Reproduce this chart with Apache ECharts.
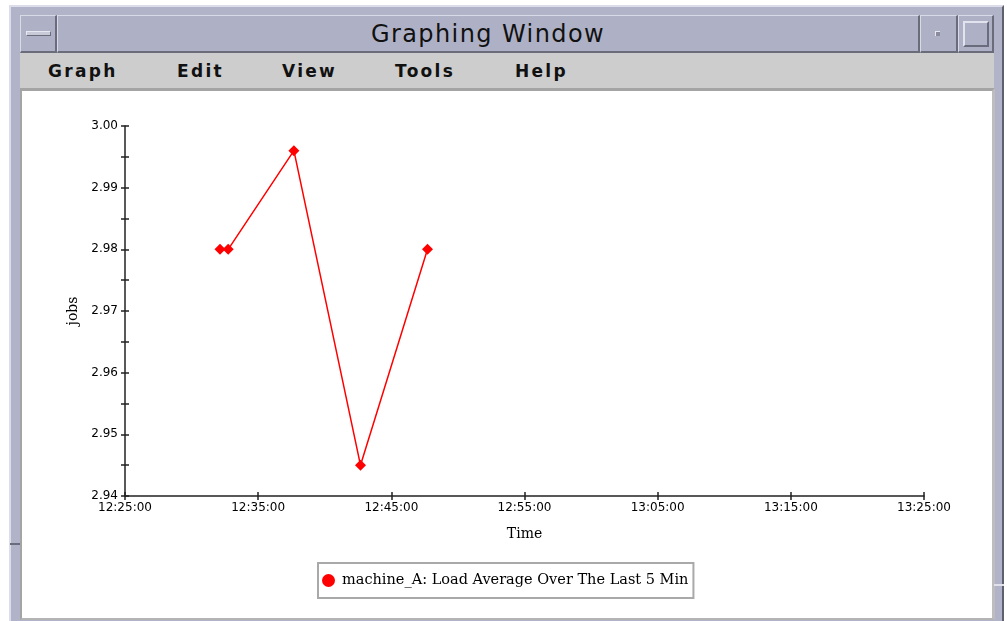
<!DOCTYPE html>
<html>
<head>
<meta charset="utf-8">
<script src="https://cdn.jsdelivr.net/npm/echarts@6/dist/echarts.min.js"></script>
<style>
  html, body { margin:0; padding:0; width:1007px; height:621px; overflow:hidden; background:#fff; }
  .abs { position:absolute; box-sizing:border-box; }
  #frame { left:9px; top:5px; width:995px; height:640px; background:#b1b4c9;
           border-left:2px solid #dcdde8; border-top:2px solid #dcdde8; border-right:2px solid #5e6070; }
  #titlebar { left:20px; top:15px; width:974px; height:38px; background:#aeb1c6; }
  .btn { top:15px; height:38px; background:#aeb1c6; border-left:1px solid #d8dae6; border-top:1px solid #d8dae6;
         border-right:2px solid #6a6c7c; border-bottom:2px solid #6a6c7c; }
  #title { left:57px; top:15px; width:862px; height:38px; line-height:38px; text-align:center;
           font-family:"DejaVu Sans"; font-size:24px; letter-spacing:1.4px; color:#111; }
  #menubar { left:20px; top:53px; width:974px; height:36px; background:#cdcdcd; }
  .menu { top:53px; height:36px; line-height:36px; font-family:"DejaVu Sans"; font-weight:bold;
          font-size:17px; letter-spacing:2.3px; color:#111; }
  #panel { left:20px; top:88px; width:975px; height:532px; background:#fff;
           border-top:3px solid #a4a4a4; border-left:2px solid #a4a4a4; border-right:3px solid #bdbdbd; border-bottom:2px solid #b4b4b4; }
  #chart { position:absolute; left:0; top:0; width:1007px; height:621px; }
</style>
</head>
<body>
<div class="abs" id="frame"></div>
<div class="abs" id="titlebar"></div>
<div class="abs btn" style="left:20px;width:37px;"></div>
<div class="abs" style="left:26px;top:31px;width:25px;height:5px;background:#c8cad8;border:1px solid #6a6c7c;border-top-color:#e8e9f0;border-left-color:#e8e9f0;"></div>
<div class="abs btn" style="left:57px;width:863px;"></div>
<div class="abs btn" style="left:920px;width:38px;"></div>
<div class="abs" style="left:935px;top:31px;width:5px;height:5px;background:#8a8c9c;border-top:1px solid #e8e9f0;border-left:1px solid #e8e9f0;"></div>
<div class="abs btn" style="left:958px;width:36px;"></div>
<div class="abs" style="left:963px;top:21px;width:26px;height:26px;border:2px solid #6a6c7c;border-top-color:#e2e3ec;border-left-color:#e2e3ec;"></div>
<div class="abs" id="title">Graphing Window</div>
<div class="abs" id="menubar"></div>
<div class="abs menu" style="left:48px;">Graph</div>
<div class="abs menu" style="left:177px;">Edit</div>
<div class="abs menu" style="left:282px;">View</div>
<div class="abs menu" style="left:395px;">Tools</div>
<div class="abs menu" style="left:515px;">Help</div>
<div class="abs" id="panel"></div>
<div class="abs" style="left:10px;top:543px;width:10px;height:2px;background:#6a6c7c;"></div>
<div class="abs" style="left:994px;top:584px;width:10px;height:2px;background:#e0e1ea;"></div>
<div id="chart"></div>
<script>
// ---- data ----
const baseTime = '12:25:00';
const sampleTimes = ['12:32:08', '12:32:45', '12:37:41', '12:42:41', '12:47:43'];
const jobsValues = [2.980, 2.980, 2.996, 2.945, 2.980];
const xTickLabels = ['12:25:00', '12:35:00', '12:45:00', '12:55:00', '13:05:00', '13:15:00', '13:25:00'];
const yTickLabels = ['2.94', '2.95', '2.96', '2.97', '2.98', '2.99', '3.00'];
const seriesName = 'machine_A: Load Average Over The Last 5 Minutes';

function toSec(s) { const p = s.split(':').map(Number); return p[0]*3600 + p[1]*60 + p[2]; }
const base = toSec(baseTime);
const points = sampleTimes.map((t, i) => [toSec(t) - base, jobsValues[i]]);

const chart = echarts.init(document.getElementById('chart'), null, { renderer: 'canvas' });
const tickFont = { fontFamily: 'DejaVu Sans', fontSize: 12, color: '#000' };
const nameFont = { fontFamily: 'DejaVu Serif', fontSize: 14, color: '#000' };
const lineStyle = { color: '#222', width: 1.5 };

const xCommon = { type: 'value', min: 0, max: 3600, interval: 600, splitLine: { show: false } };
const yCommon = { type: 'value', min: 2.94, max: 3.00, interval: 0.01, splitLine: { show: false } };

chart.setOption({
  animation: false,
  backgroundColor: 'transparent',
  grid: { left: 125, right: 83, top: 126, bottom: 125, containLabel: false },
  xAxis: [
    Object.assign({}, xCommon, {
      position: 'bottom',
      name: 'Time', nameLocation: 'middle', nameGap: 31, nameTextStyle: nameFont,
      axisLine: { show: true, lineStyle: lineStyle },
      axisTick: { show: true, length: 4, lineStyle: lineStyle },
      axisLabel: Object.assign({ margin: 6, formatter: v => xTickLabels[Math.round(v / 600)] }, tickFont)
    }),
    Object.assign({}, xCommon, {
      position: 'bottom',
      axisLine: { show: false },
      axisTick: { show: true, inside: true, length: 4, lineStyle: lineStyle },
      axisLabel: { show: false }
    })
  ],
  yAxis: [
    Object.assign({}, yCommon, {
      position: 'left',
      name: 'jobs', nameLocation: 'middle', nameGap: 42, nameRotate: 90, nameTextStyle: nameFont,
      axisLine: { show: true, lineStyle: lineStyle },
      axisTick: { show: true, length: 4, lineStyle: lineStyle },
      minorTick: { show: true, splitNumber: 2, length: 4, lineStyle: lineStyle },
      axisLabel: Object.assign({ margin: 7, formatter: v => yTickLabels[Math.round((v - 2.94) / 0.01)] }, tickFont)
    }),
    Object.assign({}, yCommon, {
      position: 'left',
      axisLine: { show: false },
      axisTick: { show: true, inside: true, length: 4, lineStyle: lineStyle },
      minorTick: { show: true, splitNumber: 2, length: 4, lineStyle: lineStyle },
      axisLabel: { show: false }
    })
  ],
  legend: {
    data: [{ name: seriesName, icon: 'circle' }],
    left: 318, top: 563,
    padding: [10, 5, 10, 4],
    itemWidth: 17, itemHeight: 13,
    selectedMode: false,
    borderColor: '#a9a9a9', borderWidth: 2, backgroundColor: '#fff',
    textStyle: { fontFamily: 'DejaVu Serif', fontSize: 14.5, color: '#000', width: 348, overflow: 'truncate', ellipsis: '' }
  },
  series: [{
    name: seriesName,
    type: 'line',
    xAxisIndex: 0, yAxisIndex: 0,
    data: points,
    symbol: 'diamond', symbolSize: 11,
    itemStyle: { color: '#ff0000' },
    lineStyle: { color: '#ff0000', width: 1.5 },
    emphasis: { disabled: true }
  }]
});
</script>
</body>
</html>
